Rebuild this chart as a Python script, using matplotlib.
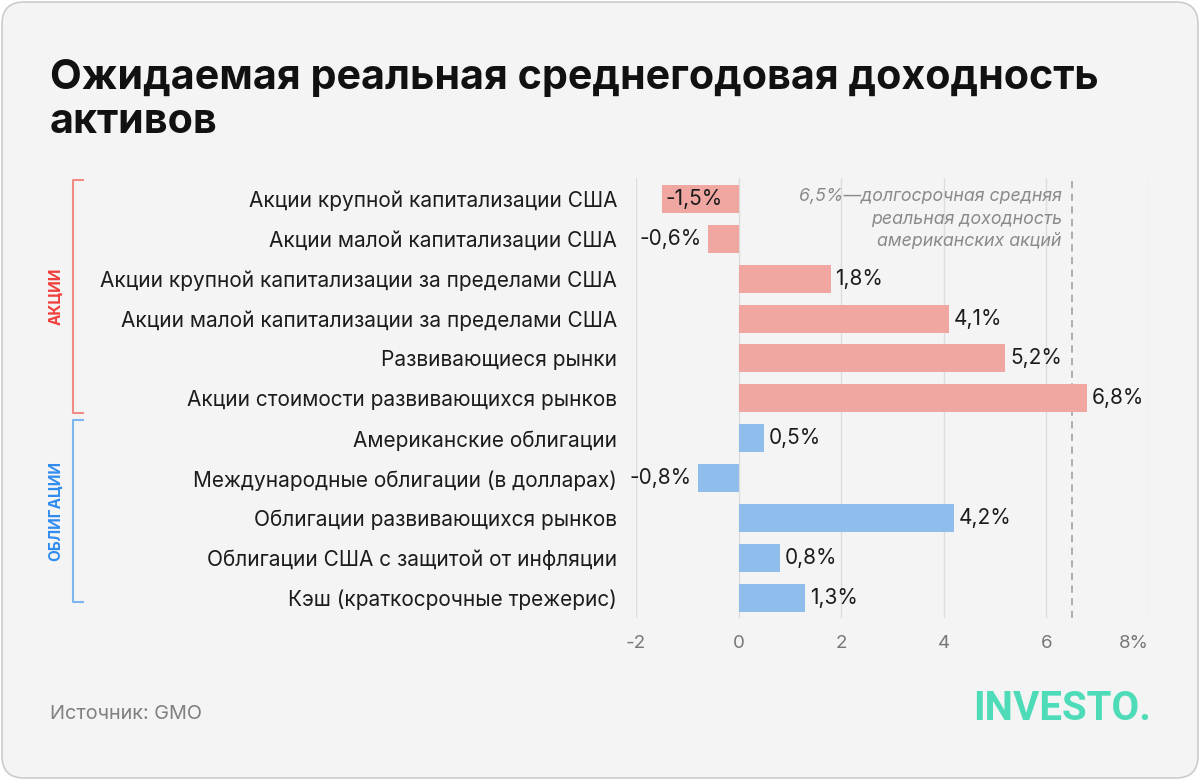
import matplotlib
matplotlib.use("Agg")
import matplotlib.pyplot as plt
from matplotlib.patches import FancyBboxPatch
from matplotlib.lines import Line2D

categories = [
    "Акции крупной капитализации США",
    "Акции малой капитализации США",
    "Акции крупной капитализации за пределами США",
    "Акции малой капитализации за пределами США",
    "Развивающиеся рынки",
    "Акции стоимости развивающихся рынков",
    "Американские облигации",
    "Международные облигации (в долларах)",
    "Облигации развивающихся рынков",
    "Облигации США с защитой от инфляции",
    "Кэш (краткосрочные трежерис)",
]
values = [-1.5, -0.6, 1.8, 4.1, 5.2, 6.8, 0.5, -0.8, 4.2, 0.8, 1.3]
groups = ["eq"] * 6 + ["bd"] * 5
group_names = {"eq": "АКЦИИ", "bd": "ОБЛИГАЦИИ"}
xticks = [-2, 0, 2, 4, 6, 8]
xticklabels = ["-2", "0", "2", "4", "6", "8%"]
ref_value = 6.5
ref_note = ["6,5%—долгосрочная средняя", "реальная доходность", "американских акций"]
title = "Ожидаемая реальная среднегодовая доходность\nактивов"
source = "Источник: GMO"
logo = "INVESTO."

FONT = "Inter"
bar_colors = {"eq": "#f0a7a1", "bd": "#8fbdec"}
bracket_colors = {"eq": "#f28b86", "bd": "#7db6f0"}
label_colors = {"eq": "#f03d3a", "bd": "#2f8cf0"}

W, H = 1200, 780
fig = plt.figure(figsize=(W / 100, H / 100), dpi=100, facecolor="white")

# card background
card = FancyBboxPatch((2, 2), W - 4, H - 4, boxstyle="round,pad=0,rounding_size=22",
                      transform=None, facecolor="#f4f4f4", edgecolor="#cccccc", lw=1.2, zorder=-10)
fig.patches.append(card)

ax = fig.add_axes([636 / W, 162 / H, 513 / W, 440 / H])
ax.set_facecolor("none")
n = len(values)
ypos = list(range(n))
ax.barh(ypos, values, height=0.7, color=[bar_colors[g] for g in groups], zorder=2)
ax.set_xlim(-2, 8)
ax.set_ylim(n - 0.5, -0.52)
ax.set_xticks(xticks)
ax.set_xticklabels(xticklabels, fontsize=13.5, color="#777777", family=FONT)
ax.get_xticklabels()[-1].set_horizontalalignment("right")
ax.set_yticks(ypos)
ax.set_yticklabels(categories, fontsize=15, color="#1c1c1c", family=FONT)
ax.tick_params(axis="both", length=0)
ax.tick_params(axis="x", pad=12)
ax.tick_params(axis="y", pad=13.5)
for s in ax.spines.values():
    s.set_visible(False)
ax.xaxis.grid(True, color="#dddddd", lw=1, zorder=0)
ax.set_axisbelow(True)
ax.axvline(ref_value, color="#a8a8a8", lw=1.3, ls=(0, (4, 3)), zorder=1)

for i, v in enumerate(values):
    lab = ("%.1f%%" % v).replace(".", ",")
    if v >= 0:
        ax.text(v + 0.09, i, lab, ha="left", va="center", fontsize=15, color="#1c1c1c", family=FONT, zorder=3)
    elif v < -1.0:
        ax.text(v + 0.08, i, lab, ha="left", va="center", fontsize=15, color="#1c1c1c", family=FONT, zorder=3)
    else:
        ax.text(v - 0.12, i, lab, ha="right", va="center", fontsize=15, color="#1c1c1c", family=FONT, zorder=3)

for line, yy in zip(ref_note, [-0.05, 0.52, 1.08]):
    ax.text(ref_value - 0.2, yy, line, ha="right", va="center", fontsize=12.8, style="italic",
            color="#8a8a8a", family=FONT, zorder=3)

# group brackets
def bracket(g, y0, y1):
    c = bracket_colors[g]
    xs = [83 / W, 73 / W, 73 / W, 83 / W]
    ys = [1 - y0 / H, 1 - y0 / H, 1 - y1 / H, 1 - y1 / H]
    fig.add_artist(Line2D(xs, ys, color=c, lw=1.5, transform=fig.transFigure))
    fig.text(56 / W, 1 - (y0 + y1) / 2 / H, group_names[g], rotation=90, ha="center", va="center",
             fontsize=11, fontweight="bold", color=label_colors[g], family=FONT)

bracket("eq", 180, 413)
bracket("bd", 420, 602)

fig.text(50 / W, 1 - 133 / H, title, ha="left", va="baseline", fontsize=29.7, fontweight="bold",
         color="#111111", family=FONT, linespacing=1.2)
fig.text(50 / W, 1 - 719 / H, source, ha="left", va="baseline", fontsize=14.3, color="#808080", family=FONT)
fig.text(1151 / W, 1 - 720 / H, logo, ha="right", va="baseline", fontsize=29, fontweight="bold",
         color="#4edbb8", family="Roboto")

fig.savefig("out.png", dpi=100, facecolor="white")
